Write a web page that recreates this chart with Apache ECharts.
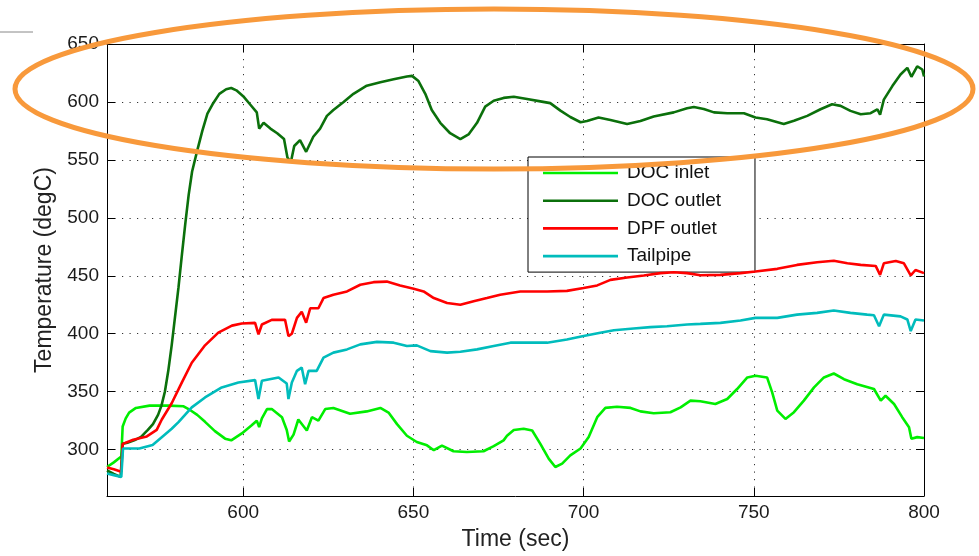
<!DOCTYPE html>
<html>
<head>
<meta charset="utf-8">
<script src="https://cdn.jsdelivr.net/npm/echarts@6/dist/echarts.min.js"></script>
<style>
html,body{margin:0;padding:0;background:#fff;}
#c{width:979px;height:556px;}
</style>
</head>
<body>
<div id="c"></div>
<script>
// Time (sec) / temperature (degC) readings, [time, temperature]
var seriesNames = ['DOC inlet', 'DOC outlet', 'DPF outlet', 'Tailpipe'];

var docInlet = [[560,285],[562,289],[564.2,294],[564.6,320],[565.5,327],[566.5,332],[568.5,336],[572.5,338],[578,338],[582.5,337.4],[584.5,334],[586.5,330],[588.8,324],[591.7,316],[594.7,309.5],[596.5,308],[599.6,314],[602.5,321],[604,325],[604.7,319.4],[605.5,327],[607,335],[608.4,335],[611.4,328],[612.8,317],[613.5,307],[614.8,313],[616.2,326],[618.7,316.5],[620.2,328],[622.1,325],[624.1,335],[626.5,336],[631.4,331],[636.3,333],[640.3,336],[642.7,332],[645.2,322],[648.1,312],[651,306.6],[654,303.7],[656,299.5],[658.4,303.5],[661.8,298.6],[665.7,298],[670.6,298.6],[673.6,303],[676.5,308],[677.5,312],[679.5,317],[682.4,318],[684.9,316.5],[687.3,305],[689.8,292],[691.7,285],[693.7,288],[696.1,295],[699.1,301],[701.5,311],[704,328],[706.4,336],[709.8,337],[713.8,336],[716.7,333],[720.6,331.4],[725.5,332.3],[728.5,336.5],[731.4,342.3],[734.3,341.7],[738.7,339.4],[742.2,343.7],[745.1,352.3],[748.1,362.3],[750.5,363.7],[753.9,362.3],[755.4,349.4],[756.9,333.7],[759.3,326.5],[761.8,332.3],[764.7,342.3],[767.7,353.7],[770.6,362.3],[773.5,365.7],[776.5,360.8],[780.4,356.5],[785.3,352.3],[787.3,342.3],[788.7,346.5],[791.2,339.4],[793.6,328],[795.6,319.4],[796.3,309.4],[798,310.8],[800,310]];

var docOutlet = [[560,282],[562,279],[564,276.5],[564.6,305],[566,306],[568,308],[570,311],[572,317],[573.5,322],[575,330],[576,338],[577,350],[578,368],[579,390],[580,415],[581,440],[582,468],[583,495],[584,520],[585,540],[586.5,558],[588,575],[589.5,590],[591,598],[593,607],[595,611],[596.5,612],[598,610],[600,605],[602,598],[604,591],[604.7,577],[606,582],[608,577],[610,573],[612,568],[613,552],[614,548],[615,562],[616.7,567],[618.5,557],[620.6,570],[622.6,577],[624.6,588],[626.5,593],[629.5,600],[632.4,607],[636.3,614],[640.3,617],[644.2,619.5],[648.1,622],[649.6,622.5],[651.5,618],[653.5,607],[655.4,593],[657.9,582],[660.8,573],[663.8,568],[666.2,572],[668.7,582],[671.1,596],[673.6,601],[676.5,603.5],[679.5,604.5],[683.4,602.5],[687.3,600.5],[690.2,599],[693.2,592.5],[696.1,587],[699.1,582.5],[701,583.5],[704.4,586.5],[707.9,584.5],[712.8,581],[716.7,583.5],[720.6,587.5],[726.5,591],[730.4,594.5],[732.4,595.7],[735.3,594],[738.3,591],[742.2,590.3],[747.1,590.3],[750.5,586.6],[753.9,585],[758.8,581],[761.8,583.7],[765.7,588],[769.6,593.7],[773,598],[775.5,596.6],[778.4,592.3],[781.4,589.4],[784.3,590.3],[786.3,593.7],[787.1,589],[788.2,602],[790.7,613.7],[793.1,623.7],[795.1,629.4],[796.3,621.7],[798,630.8],[799.5,628],[800,622]];

var dpfOutlet = [[560,284.5],[562,283],[564.2,281],[564.6,305],[567.7,308.6],[571.7,311.4],[574.6,317],[576.1,326],[579,340],[582,358],[584.9,375],[588.8,390],[592.7,401],[596.7,407],[599.6,408.8],[603.5,409.4],[604.5,399.4],[605.5,408],[608.4,412],[612.3,412],[613.3,398],[614.3,400],[615.8,413.7],[617.2,419],[618.5,409.5],[619.7,422],[622.1,422],[623.6,430.8],[626.5,433.7],[630.5,436.5],[634.4,442.3],[638.3,444.5],[642.2,445],[646.1,441.7],[650.1,438.8],[653,436.5],[656,430.8],[659.9,426.5],[663.8,425],[667.7,428],[671.6,430.8],[675.5,433.7],[681.4,436.5],[689.3,436.5],[695.1,437],[700,439.4],[704,441.7],[707.9,446.5],[712.8,448.5],[717.7,450.3],[722.6,452.3],[726.5,453],[730.4,452.3],[734.3,450.5],[740.2,450.8],[746.1,452.3],[750.5,453.7],[756.9,456],[762.7,459.4],[768.6,461.7],[773.5,463],[777.5,460.8],[781.4,459.4],[785.8,458.5],[787.1,450.8],[788.2,460.8],[791.7,462.8],[794.1,460.8],[796.1,450.3],[797.5,455],[800,452.3]];

var tailpipe = [[560,279.4],[562,278],[564.2,276.5],[564.7,301],[569.5,301],[573.4,304],[576.6,312],[579,318],[581,323.7],[584.9,336.5],[588.8,345],[593.7,353.7],[598.6,358],[603.5,360],[604.5,343.7],[605.5,359.4],[610.4,362.3],[612.8,357],[613.3,343.7],[614.3,358],[615.8,368],[617.2,370.8],[618.2,356.5],[619.2,368],[621.6,368],[623.6,379.4],[626.5,383.7],[630.5,386.5],[634.4,390.8],[639.3,393],[644.2,392.3],[648.1,389.4],[651,390],[655,385],[659.9,383.7],[663.8,384.5],[668.7,386.5],[673.6,389.4],[678.5,392.3],[681.4,392.3],[689.3,392.3],[695.1,395],[700,398],[704.9,400.8],[708.9,403],[714.7,404.5],[719.6,405.7],[724.5,406.5],[730.4,408],[734.3,408.5],[740.2,409.4],[746.1,411.4],[750.5,413.7],[756.9,413.7],[762.7,416.5],[768.6,418],[773.5,420],[778.4,418],[783.3,416.5],[785.3,416],[786.8,406.5],[788.2,416.5],[793.1,415],[795.1,412.3],[796.1,402.3],[797.5,412.3],[800,411.4]];

var xRange = [560, 800];
var yRange = [260, 650];
var tickStep = 50;

var seriesData = [docInlet, docOutlet, dpfOutlet, tailpipe];
var seriesColors = ['#00ee00', '#0b700b', '#ff0000', '#00bcbc'];

var FONT = '"Liberation Sans", Arial, sans-serif';
var gridLine = { show: true, lineStyle: { color: '#333', width: 1, type: [1.2, 6.3] } };
var fmt = function (v) { return (Math.round(v) % tickStep === 0) ? String(Math.round(v)) : ''; };
// thin horizontal bar icon; tiny zero-height subpaths stretch the bounding box to the full item height
var lineIcon = 'path://M0,0L0.01,0Z M0,19L0.01,19Z M0,8.2L75,8.2L75,10.8L0,10.8Z';

var chart = echarts.init(document.getElementById('c'), null, { renderer: 'canvas' });
chart.setOption({
  animation: false,
  backgroundColor: '#fff',
  grid: { left: 107, right: 55, top: 44, bottom: 57, containLabel: false },
  legend: {
    data: seriesNames.map(function (n) { return { name: n, icon: lineIcon }; }),
    orient: 'vertical',
    left: 528, top: 157,
    padding: [6.5, 34, 6.5, 15],
    itemWidth: 75, itemHeight: 19, itemGap: 8.7,
    backgroundColor: '#fff',
    borderColor: '#000', borderWidth: 1,
    textStyle: { fontFamily: FONT, fontSize: 19, lineHeight: 19, color: '#111', padding: [0, 0, 0, 4] }
  },
  xAxis: [{
    type: 'value', position: 'bottom',
    min: xRange[0], max: xRange[1], minInterval: tickStep, maxInterval: tickStep,
    axisLine: { show: true, onZero: false, lineStyle: { color: '#000', width: 1 } },
    axisTick: { show: true, inside: true, length: 8, lineStyle: { color: '#000' } },
    axisLabel: { fontFamily: FONT, fontSize: 19, color: '#1a1a1a', margin: 7, formatter: fmt },
    splitLine: gridLine,
    name: 'Time (sec)', nameLocation: 'middle', nameGap: 32,
    nameTextStyle: { fontFamily: FONT, fontSize: 23, color: '#222' }
  }, {
    type: 'value', position: 'top',
    min: xRange[0], max: xRange[1], minInterval: tickStep, maxInterval: tickStep,
    axisLine: { show: true, onZero: false, lineStyle: { color: '#000', width: 1 } },
    axisTick: { show: true, inside: true, length: 8, lineStyle: { color: '#000' } },
    axisLabel: { show: false }, splitLine: { show: false }
  }],
  yAxis: [{
    type: 'value', position: 'left',
    min: yRange[0], max: yRange[1], minInterval: tickStep, maxInterval: tickStep,
    axisLine: { show: true, onZero: false, lineStyle: { color: '#000', width: 1 } },
    axisTick: { show: true, inside: true, length: 8, lineStyle: { color: '#000' } },
    axisLabel: { fontFamily: FONT, fontSize: 19, color: '#1a1a1a', margin: 8, formatter: fmt },
    splitLine: gridLine,
    name: 'Temperature (degC)', nameLocation: 'middle', nameGap: 48,
    nameTextStyle: { fontFamily: FONT, fontSize: 23, color: '#222' }
  }, {
    type: 'value', position: 'right',
    min: yRange[0], max: yRange[1], minInterval: tickStep, maxInterval: tickStep,
    axisLine: { show: true, onZero: false, lineStyle: { color: '#000', width: 1 } },
    axisTick: { show: true, inside: true, length: 8, lineStyle: { color: '#000' } },
    axisLabel: { show: false }, splitLine: { show: false }
  }],
  series: seriesNames.map(function (n, i) {
    return {
      name: n, type: 'line', xAxisIndex: 0, yAxisIndex: 0,
      data: seriesData[i], symbol: 'none', smooth: false,
      color: seriesColors[i],
      lineStyle: { color: seriesColors[i], width: 2.6 },
      z: 2 + i
    };
  }),
  graphic: [
    { type: 'line', shape: { x1: 0, y1: 32, x2: 33, y2: 32 }, style: { stroke: '#888', lineWidth: 1 }, z: 50 },
    { type: 'ellipse', shape: { cx: 494, cy: 89, rx: 479, ry: 80 },
      style: { fill: null, stroke: '#f8993b', lineWidth: 5 }, z: 100 }
  ]
});
</script>
</body>
</html>
